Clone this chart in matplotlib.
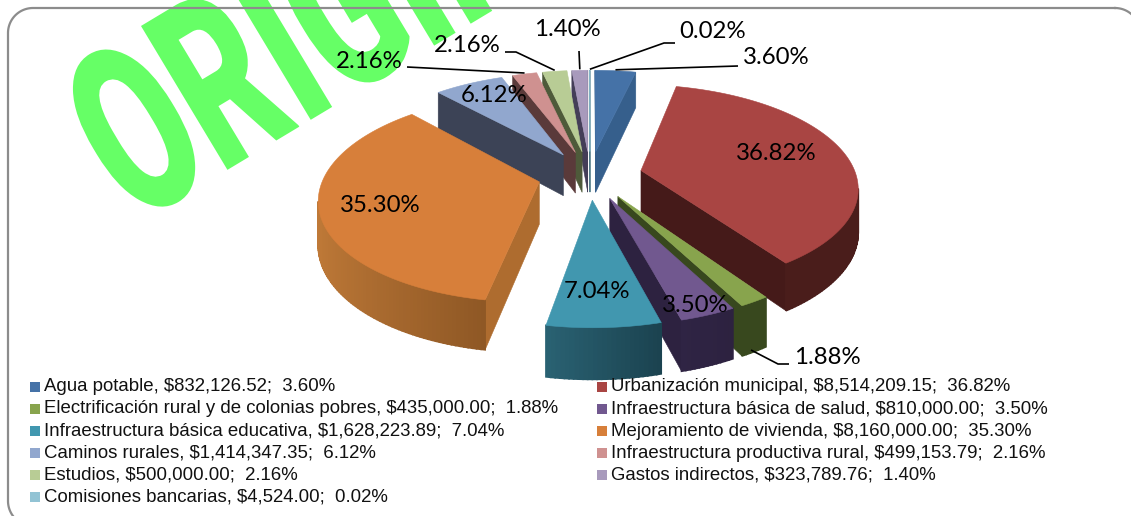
import numpy as np
import matplotlib
matplotlib.use("Agg")
import matplotlib.pyplot as plt
from matplotlib.patches import Polygon, Rectangle
from matplotlib.patheffects import AbstractPathEffect
from matplotlib.transforms import Affine2D

names = ["Agua potable", "Urbanización municipal",
         "Electrificación rural y de colonias pobres", "Infraestructura básica de salud",
         "Infraestructura básica educativa", "Mejoramiento de vivienda",
         "Caminos rurales", "Infraestructura productiva rural",
         "Estudios", "Gastos indirectos", "Comisiones bancarias"]
amounts = [832126.52, 8514209.15, 435000.00, 810000.00, 1628223.89, 8160000.00,
           1414347.35, 499153.79, 500000.00, 323789.76, 4524.00]
percents = [3.60, 36.82, 1.88, 3.50, 7.04, 35.30, 6.12, 2.16, 2.16, 1.40, 0.02]

# top face, radial wall, outer wall (light end, dark end)
top_cols = ["#4572A7", "#A94543", "#88A44D", "#71588F", "#4197AF", "#D77F3A",
            "#91A7CE", "#CF9190", "#B8CC95", "#A89ABC", "#92C3D4"]
wall_cols = ["#365F8C", "#451A19", "#38481E", "#2D2240", "#2A6273", "#AE6C2F",
             "#3C4356", "#5A3A3A", "#4E5A3A", "#443E58", "#3A6A78"]
rim_a = ["#365F8C", "#4A1D1B", "#38481E", "#2F2444", "#2A6273", "#C07A38",
         "#3C4356", "#5A3A3A", "#4E5A3A", "#443E58", "#3A6A78"]
rim_b = ["#365F8C", "#4A1D1B", "#38481E", "#2D2240", "#1B4350", "#8F5825",
         "#3C4356", "#5A3A3A", "#4E5A3A", "#443E58", "#3A6A78"]

# projection of the tilted pie, in pixels
CX, CY = 590, 175
AX, AY = 215, 100
PERSP = 0.15
EXPLODE = 0.243
DEPTH = 42


class Squeeze(AbstractPathEffect):
    # narrows the glyphs along their own baseline
    def __init__(self, sx):
        super().__init__()
        self.sx = sx

    def draw_path(self, renderer, gc, tpath, affine, rgbFace=None):
        renderer.draw_path(gc, tpath, Affine2D().scale(self.sx, 1) + affine, rgbFace)


def project(x, y, z=0.0):
    s = 1 / (1 + PERSP * y)
    return CX + AX * x * s, CY - AY * y * s + z * DEPTH * s


def mix(a, b, t):
    ca, cb = matplotlib.colors.to_rgb(a), matplotlib.colors.to_rgb(b)
    return tuple((1 - t) * p + t * q for p, q in zip(ca, cb))


def area(quad):
    # shoelace area in screen space (y pointing down)
    q = np.array(quad)
    x, y = q[:, 0], q[:, 1]
    return np.sum(x * np.roll(y, -1) - np.roll(x, -1) * y)


def draw_face(ax, quad, col, z, lw=0.4):
    ax.add_patch(Polygon(quad, closed=True, facecolor=col, edgecolor=col, lw=lw, zorder=z, snap=False))


def rounded_frame(x0, y0, x1, y1, r):
    corners = [(x1 - r, y0 + r, -90), (x1 - r, y1 - r, 0), (x0 + r, y1 - r, 90), (x0 + r, y0 + r, 180)]
    pts = []
    for cx, cy, a in corners:
        t = np.radians(np.linspace(a, a + 90, 24))
        pts += list(zip(cx + r * np.cos(t), cy + r * np.sin(t)))
    pts.append(pts[0])
    return np.array(pts)


fig = plt.figure(figsize=(11.31, 5.16), dpi=100)
ax = fig.add_axes([0, 0, 1, 1])
ax.set_xlim(0, 1131)
ax.set_ylim(516, 0)
ax.axis("off")

# watermark sits under the frame and the pie
ax.text(134, 226, "ORIGINAL", color="#66FF66", fontsize=170, fontweight=900,
        family=["Roboto", "DejaVu Sans"], rotation=31, rotation_mode="anchor",
        ha="left", va="baseline", zorder=1, path_effects=[Squeeze(0.62)])

frame = rounded_frame(8, 8, 1140, 526, 25)
ax.plot(frame[:, 0], frame[:, 1], color="#8C8C8C", lw=1.6, zorder=2)

shares = np.array(percents, dtype=float)
angles = np.cumsum(np.r_[0, shares / shares.sum() * 360])
order = np.argsort(-np.cos(np.radians((angles[:-1] + angles[1:]) / 2)))

rim_points = {}
z = 3
for i in order:
    t0, t1 = np.radians(angles[i]), np.radians(angles[i + 1])
    mid = (t0 + t1) / 2
    ox, oy = EXPLODE * np.sin(mid), EXPLODE * np.cos(mid)
    steps = max(3, int(np.degrees(t1 - t0)))
    th = np.linspace(t0, t1, steps + 1)
    xs, ys = ox + np.sin(th), oy + np.cos(th)
    rim_points[i] = project(ox + np.sin(mid), oy + np.cos(mid))

    # radial walls, outer wall quads, then the top
    for k, sign in ((0, -1), (-1, 1)):
        quad = [project(ox, oy), project(xs[k], ys[k]), project(xs[k], ys[k], 1), project(ox, oy, 1)]
        if area(quad) * sign > 0:
            draw_face(ax, quad, wall_cols[i], z)
    z += 1
    for k in range(steps):
        quad = [project(xs[k], ys[k]), project(xs[k + 1], ys[k + 1]),
                project(xs[k + 1], ys[k + 1], 1), project(xs[k], ys[k], 1)]
        if area(quad) >= 0:
            continue
        # gradient runs from the left of the slice to the right
        frac = (np.sin(th[k]) - np.sin(th).min()) / max(np.ptp(np.sin(th)), 1e-6)
        draw_face(ax, quad, mix(rim_a[i], rim_b[i], frac), z, lw=1.2)
    z += 1
    top = [project(ox, oy)] + [project(a, b) for a, b in zip(xs, ys)]
    draw_face(ax, top, top_cols[i], z)
    z += 1

label_pos = [(776, 58), (776, 154), (827, 357), (695, 305), (597, 292), (380, 206),
             (494, 96), (369, 61), (467, 46), (567, 30), (713, 31)]
for p, (lx, ly) in zip(percents, label_pos):
    ax.text(lx, ly, f"{p:.2f}%", fontsize=17.3, family=["Lato", "DejaVu Sans"], color="black",
            ha="center", va="center", zorder=60)

# leader lines for the small slices
leaders = {0: [(738, 66)], 2: [(778, 364), (789, 364)], 7: [(407, 67)],
           8: [(516, 52), (505, 52)], 9: [(579, 51)], 10: [(664, 43), (675, 43)]}
for i, pts in leaders.items():
    if i == 2:
        start = (751, 350)
    else:
        start = (rim_points[i][0], rim_points[i][1] - 1)
    line = np.array([start] + pts)
    ax.plot(line[:, 0], line[:, 1], color="black", lw=1.2, zorder=59, solid_capstyle="butt")

# legend, filled row by row in two columns
col_x = [30, 597]
row_y = [386.5, 408.5, 431, 453, 475, 497]
for i, name in enumerate(names):
    x0 = col_x[i % 2]
    y0 = row_y[i // 2]
    ax.add_patch(Rectangle((x0, y0 - 5), 10, 10, facecolor=top_cols[i], edgecolor="none", zorder=61))
    ax.text(x0 + 14, y0, f"{name}, ${amounts[i]:,.2f};  {percents[i]:.2f}%", fontsize=13.4,
            family=["Liberation Sans", "DejaVu Sans"], color="#111111", ha="left", va="center", zorder=61)

fig.savefig("out.png", dpi=100, facecolor="white")
